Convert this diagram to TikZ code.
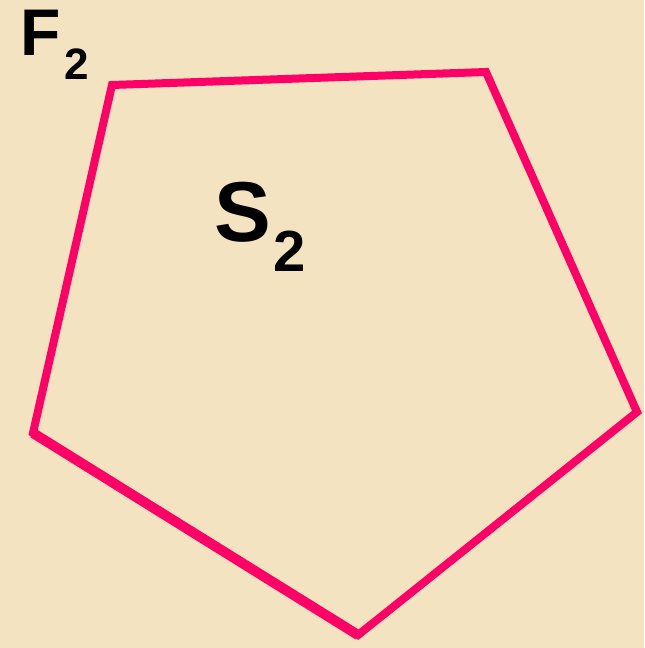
\documentclass[tikz,border=0pt]{standalone}
\usepackage{fontspec}
\setmainfont{Liberation Sans}
\definecolor{parchment}{RGB}{243,227,193}
\definecolor{edgepink}{RGB}{255,0,102}

\begin{document}
\begin{tikzpicture}[x=0.5pt,y=-0.5pt,line join=miter]
\fill[parchment] (0,0) rectangle (644,648);
\useasboundingbox (0,0) rectangle (644,648);
\coordinate (a) at (112,85);
\coordinate (b) at (486,72);
\coordinate (c) at (637,412);
\coordinate (d) at (358,635);
\coordinate (e) at (33,433);
\draw[edgepink,line width=4pt] (a)--(b)--(c)--(d)--(e)--cycle;
\draw[edgepink,line width=5pt] (e)--(d);
\node[anchor=base west,inner sep=0pt] (f2) at (20,55) {\fontsize{33}{33}\selectfont\bfseries F\hspace{2pt}\raisebox{-12pt}{\fontsize{22}{22}\selectfont 2}};
\node[anchor=base west,inner sep=0pt] (s2) at (214,241) {\fontsize{42.5}{42.5}\selectfont\bfseries S\hspace{1pt}\raisebox{-15pt}{\fontsize{29}{29}\selectfont 2}};
\end{tikzpicture}
\end{document}
